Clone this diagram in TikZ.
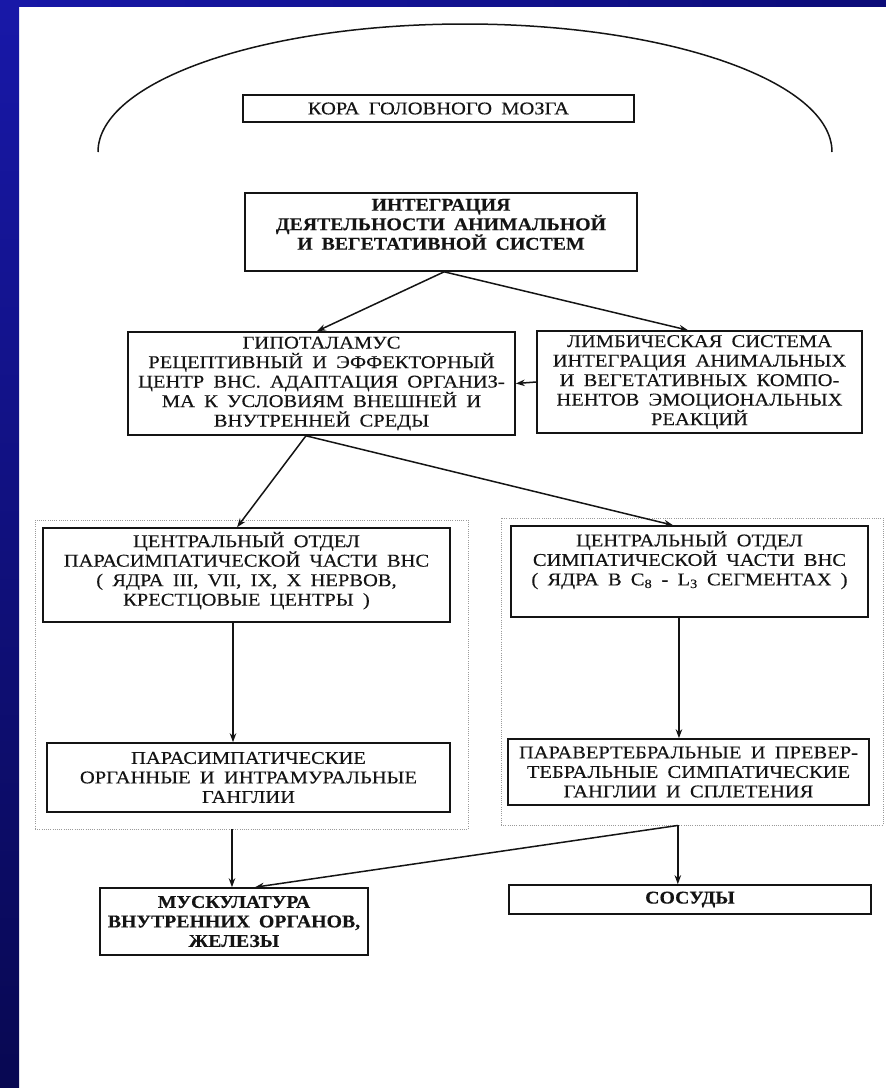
\documentclass[tikz,border=0pt]{standalone}
\usepackage{fontspec}
\setmainfont{Liberation Serif}[FakeStretch=1.14, WordSpace=1.8, UprightFeatures={FakeBold=0.2}]
\newfontfamily\boldser{Liberation Serif Bold}[FakeStretch=1.1, WordSpace=1.8, FakeBold=0.3]
\usetikzlibrary{calc,arrows.meta}
\definecolor{ink}{HTML}{141414}
\definecolor{bluetop}{RGB}{24,24,168}
\definecolor{bluebot}{RGB}{8,8,82}
\definecolor{blueright}{RGB}{12,12,120}
\definecolor{dotgray}{HTML}{9A9A9A}
\begin{document}
\begin{tikzpicture}[x=1pt,y=-1pt,
  box/.style={draw=ink, line width=1.6pt, inner sep=0pt, align=center, text=ink,
    font=\fontsize{18}{19.5}\selectfont},
  boldbox/.style={box, font=\fontsize{18}{19.5}\selectfont\boldser},
  grp/.style={draw=dotgray, line width=0.9pt, dash pattern=on 0.9pt off 1.3pt, inner sep=0pt},
  arr/.style={draw=ink, line width=1.5pt, -{Stealth[length=9pt,width=6.5pt]}},
  ln/.style={draw=ink, line width=1.5pt}]
\useasboundingbox (0,0) rectangle (886,1088);
\fill[white] (0,0) rectangle (886,1088);
\shade[top color=bluetop, bottom color=bluebot] (0,0) rectangle (19,1088);
\shade[left color=bluetop, right color=blueright] (0,0) rectangle (886,6);

% cortex arc
\draw[ln] (98,152) arc[start angle=180, end angle=360, x radius=367, y radius=128];

% boxes
\node[box, minimum width=391pt, minimum height=27pt] (kora) at (438.5,108.5) {КОРА ГОЛОВНОГО МОЗГА};
\node[boldbox, minimum width=392pt, minimum height=78pt] (integr) at (441,232)
  {ИНТЕГРАЦИЯ\\ДЕЯТЕЛЬНОСТИ АНИМАЛЬНОЙ\\И ВЕГЕТАТИВНОЙ СИСТЕМ\\[-4pt]\mbox{}};
\node[box, minimum width=387pt, minimum height=103pt] (hypo) at (321.5,383.5)
  {ГИПОТАЛАМУС\\РЕЦЕПТИВНЫЙ И ЭФФЕКТОРНЫЙ\\ЦЕНТР ВНС. АДАПТАЦИЯ ОРГАНИЗ-\\МА К УСЛОВИЯМ ВНЕШНЕЙ И\\ВНУТРЕННЕЙ СРЕДЫ};
\node[box, minimum width=325pt, minimum height=102pt] (limbic) at (699.5,382)
  {ЛИМБИЧЕСКАЯ СИСТЕМА\\ИНТЕГРАЦИЯ АНИМАЛЬНЫХ\\И ВЕГЕТАТИВНЫХ КОМПО-\\НЕНТОВ ЭМОЦИОНАЛЬНЫХ\\РЕАКЦИЙ};

\node[grp, minimum width=433pt, minimum height=309pt] (pgrp) at (251.5,674.5) {};
\node[grp, minimum width=382pt, minimum height=307pt] (sgrp) at (692,671.5) {};

\node[box, minimum width=407pt, minimum height=94pt] (pc) at (246.5,575)
  {ЦЕНТРАЛЬНЫЙ ОТДЕЛ\\ПАРАСИМПАТИЧЕСКОЙ ЧАСТИ ВНС\\( ЯДРА III, VII, IX, X НЕРВОВ,\\КРЕСТЦОВЫЕ ЦЕНТРЫ )\\[-7pt]\mbox{}};
\node[box, minimum width=403pt, minimum height=69pt] (pg) at (248.5,777.5)
  {ПАРАСИМПАТИЧЕСКИЕ\\ОРГАННЫЕ И ИНТРАМУРАЛЬНЫЕ\\ГАНГЛИИ};
\node[box, minimum width=357pt, minimum height=91pt] (sc) at (689.5,571.5)
  {ЦЕНТРАЛЬНЫЙ ОТДЕЛ\\СИМПАТИЧЕСКОЙ ЧАСТИ ВНС\\( ЯДРА В C\textsubscript{8} - L\textsubscript{3} СЕГМЕНТАХ )\\[7pt]\mbox{}};
\node[box, minimum width=361pt, minimum height=66pt] (sg) at (688.5,772)
  {ПАРАВЕРТЕБРАЛЬНЫЕ И ПРЕВЕР-\\ТЕБРАЛЬНЫЕ СИМПАТИЧЕСКИЕ\\ГАНГЛИИ И СПЛЕТЕНИЯ};
\node[boldbox, minimum width=268pt, minimum height=67pt] (musk) at (234,921.5)
  {МУСКУЛАТУРА\\ВНУТРЕННИХ ОРГАНОВ,\\ЖЕЛЕЗЫ};
\node[boldbox, minimum width=362pt, minimum height=29pt] (sos) at (690,899.5) {СОСУДЫ};

% connection points
\coordinate (iOut) at ($(integr.south west)!0.508!(integr.south east)$);
\coordinate (hOut) at ($(hypo.south west)!0.46!(hypo.south east)$);
\coordinate (pcOut) at ($(pc.south west)!0.467!(pc.south east)$);
\coordinate (scOut) at ($(sc.south west)!0.4706!(sc.south east)$);
\coordinate (pgOut) at ($(pgrp.south west)!0.455!(pgrp.south east)$);
\coordinate (sgOut) at ($(sgrp.south west)!0.463!(sgrp.south east)$);

% connectors
\draw[arr] (iOut) -- ($(hypo.north west)!0.488!(hypo.north east)$);
\draw[arr] (iOut) -- ($(limbic.north west)!0.465!(limbic.north east)$);
\draw[arr] (limbic.west) -- (hypo.east);
\draw[arr] (hOut) -- ($(pc.north west)!0.477!(pc.north east)$);
\draw[arr] (hOut) -- ($(sc.north west)!0.454!(sc.north east)$);
\draw[arr] (pcOut) -- (pcOut |- pg.north);
\draw[arr] (scOut) -- (scOut |- sg.north);
\draw[arr] (pgOut) -- (pgOut |- musk.north);
\draw[arr] (sgOut) -- (sgOut |- sos.north);
\draw[arr] (sgOut) -- ($(musk.north west)!0.578!(musk.north east)$);
\end{tikzpicture}
\end{document}
